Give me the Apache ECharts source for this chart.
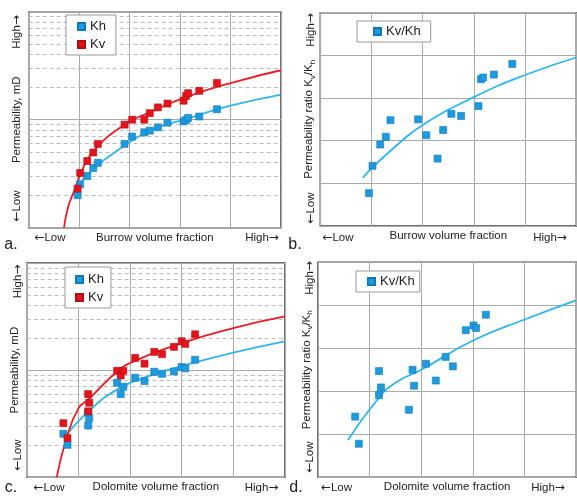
<!DOCTYPE html>
<html>
<head>
<meta charset="utf-8">
<script src="https://cdn.jsdelivr.net/npm/echarts@6/dist/echarts.min.js"></script>
<style>
  html, body { margin: 0; padding: 0; background: #fff; }
  #chart { width: 577px; height: 497px; }
</style>
</head>
<body>
<div id="chart"></div>
<script>
// a. burrow volume fraction vs permeability (log)
const burrowX = [0.97, 1.02, 1.16, 1.28, 1.37, 1.90, 2.05, 2.29, 2.40, 2.56, 2.75, 3.07, 3.12, 3.16, 3.38, 3.73];
const burrowKh = [2.0, 2.52, 3.01, 3.57, 3.99, 5.97, 6.98, 7.64, 7.92, 8.50, 9.39, 9.66, 9.93, 10.4, 10.7, 12.5];
const burrowKv = [2.30, 3.21, 4.14, 4.97, 5.97, 9.0, 10.0, 10.0, 11.5, 13.0, 14.1, 15.0, 16.6, 17.6, 18.5, 21.9];
const burrowKhFitX = [0.92, 1.02, 1.28, 1.71, 2.4, 3.13, 3.98, 4.98];
const burrowKhFitY = [2.35, 2.6, 3.5, 5.0, 7.9, 10.2, 13.4, 17.0];
const burrowKvFitX = [0.70, 0.78, 0.92, 1.02, 1.28, 1.9, 2.4, 3.13, 4.15, 5.0];
const burrowKvFitY = [1.0, 1.55, 2.3, 3.1, 5.1, 9.0, 11.7, 16.3, 22.8, 28.7];

// b. burrow volume fraction vs Kv/Kh
const burrowRatioX = [0.95, 1.02, 1.17, 1.28, 1.37, 1.91, 2.07, 2.29, 2.40, 2.56, 2.75, 3.09, 3.14, 3.18, 3.39, 3.75];
const burrowRatio = [0.77, 1.41, 1.91, 2.09, 2.48, 2.50, 2.13, 1.58, 2.25, 2.63, 2.58, 2.81, 3.44, 3.48, 3.55, 3.80];
const burrowRatioFitX = [0.83, 1.0, 1.5, 2.0, 3.0, 4.0, 5.0];
const burrowRatioFitY = [1.13, 1.35, 1.9, 2.37, 3.02, 3.54, 3.95];

// c. dolomite volume fraction vs permeability (log)
const dolomiteX = [0.71, 0.79, 1.19, 1.21, 1.19, 1.75, 1.82, 1.87, 2.10, 2.28, 2.47, 2.62, 2.85, 3.0, 3.07, 3.26];
const dolomiteKh = [2.55, 2.01, 4.02, 3.56, 3.04, 7.63, 5.98, 7.00, 8.49, 7.91, 9.66, 9.25, 9.72, 10.7, 10.4, 12.5];
const dolomiteKv = [3.20, 2.32, 5.98, 4.97, 4.13, 9.86, 8.92, 9.86, 13.0, 11.5, 14.8, 14.1, 16.5, 18.6, 17.6, 21.6];
const dolomiteKhFitX = [0.72, 1.19, 1.8, 2.45, 3.0, 4.0, 5.0];
const dolomiteKhFitY = [2.3, 4.1, 6.8, 9.1, 10.9, 14.6, 18.6];
const dolomiteKvFitX = [0.58, 0.77, 1.0, 1.19, 1.74, 2.06, 3.0, 4.0, 5.0];
const dolomiteKvFitY = [1.0, 2.3, 4.4, 5.3, 9.6, 12.0, 17.9, 24.7, 31.7];

// d. dolomite volume fraction vs Kv/Kh
const dolomiteRatioX = [0.72, 0.79, 1.18, 1.18, 1.22, 1.76, 1.83, 1.86, 2.09, 2.28, 2.47, 2.61, 2.86, 3.01, 3.06, 3.25];
const dolomiteRatio = [1.41, 0.78, 2.47, 1.91, 2.09, 1.57, 2.50, 2.13, 2.64, 2.25, 2.80, 2.58, 3.42, 3.53, 3.47, 3.78];
const dolomiteRatioFitX = [0.58, 1.16, 1.5, 2.0, 3.0, 4.0, 4.98];
const dolomiteRatioFitY = [0.87, 1.82, 2.2, 2.5, 3.18, 3.67, 4.11];

// dashed minor gridlines on the log axes
const logMinorLines = [2, 3, 4, 5, 6, 7, 8, 9, 20, 30, 40, 50, 60, 70, 80, 90];

const FONT = '"Liberation Sans", Arial, sans-serif';
const ARROW_FONT = '"DejaVu Sans", sans-serif';
const BLUE = '#1c9be0';
const BLUE_LINE = '#2fb5ee';
const RED = '#e5141c';
const RED_LINE = '#ee1c24';

const zip = (xs, ys) => xs.map((x, i) => [x, ys[i]]);

const chart = echarts.init(document.getElementById('chart'));

const grids = [
  { left: 28.7, top: 11.7, width: 252.3, height: 216 },
  { left: 320.3, top: 12.7, width: 256, height: 213.3 },
  { left: 26.7, top: 263, width: 258.3, height: 214.3 },
  { left: 318, top: 262.3, width: 258.3, height: 215 }
].map(g => Object.assign(g, { show: true, borderColor: '#444', borderWidth: 1.5, backgroundColor: 'transparent' }));

const hidden = { axisLine: { show: false }, axisTick: { show: false }, axisLabel: { show: false } };
const nameStyle = { fontSize: 11.5, fontFamily: FONT, color: '#222' };

const xNames = ['Burrow volume fraction', 'Burrow volume fraction', 'Dolomite volume fraction', 'Dolomite volume fraction'];
const xAxes = xNames.map((n, i) => Object.assign({
  type: 'value', gridIndex: i, min: 0, max: 5, interval: 1,
  splitLine: { lineStyle: { color: '#aaa', width: 1 } },
  name: n, nameLocation: 'middle', nameGap: 4, nameTextStyle: nameStyle
}, hidden));

const ratioName = '{t|Permeability ratio K}{s|v}{t|/K}{s|h}';
const ratioStyle = {
  fontFamily: FONT, color: '#222',
  rich: {
    t: { fontSize: 11.5, fontFamily: FONT, color: '#222', lineHeight: 14 },
    s: { fontSize: 8, fontFamily: FONT, color: '#222', lineHeight: 14, verticalAlign: 'bottom' }
  }
};
const yAxes = [0, 1, 2, 3].map(i => {
  const isLog = i === 0 || i === 2;
  return Object.assign({
    gridIndex: i,
    type: isLog ? 'log' : 'value',
    logBase: 10,
    min: isLog ? 1 : 0,
    max: isLog ? 100 : 5,
    interval: isLog ? undefined : 1,
    splitLine: { lineStyle: { color: '#aaa', width: 1 } },
    name: isLog ? 'Permeability, mD' : ratioName,
    nameLocation: 'middle', nameRotate: 90, nameGap: isLog ? 6 : 4,
    nameTextStyle: isLog ? nameStyle : ratioStyle
  }, hidden);
});

function scatter(name, idx, xs, ys, color, border) {
  return {
    name: name, type: 'scatter', xAxisIndex: idx, yAxisIndex: idx, z: 4,
    symbol: 'rect', symbolSize: 7,
    itemStyle: { color: color, borderColor: border, borderWidth: 0.6, opacity: 1 },
    data: zip(xs, ys)
  };
}
function fit(name, idx, xs, ys, color, minor) {
  const s = {
    name: name, type: 'line', xAxisIndex: idx, yAxisIndex: idx, z: 3,
    smooth: true, showSymbol: false, symbol: 'none', silent: true,
    lineStyle: { color: color, width: 1.8 },
    data: zip(xs, ys)
  };
  if (minor) {
    s.markLine = {
      silent: true, symbol: 'none', z: 1, animation: false,
      label: { show: false },
      lineStyle: { color: '#bbb', width: 1, type: [4, 3] },
      emphasis: { disabled: true },
      data: logMinorLines.map(v => ({ yAxis: v }))
    };
  }
  return s;
}

const series = [
  fit('a Kh fit', 0, burrowKhFitX, burrowKhFitY, BLUE_LINE, true),
  fit('a Kv fit', 0, burrowKvFitX, burrowKvFitY, RED_LINE, false),
  scatter('Kh', 0, burrowX, burrowKh, BLUE, '#1276b8'),
  scatter('Kv', 0, burrowX, burrowKv, RED, '#b00d12'),
  fit('b fit', 1, burrowRatioFitX, burrowRatioFitY, BLUE_LINE, false),
  scatter('Kv/Kh', 1, burrowRatioX, burrowRatio, BLUE, '#1276b8'),
  fit('c Kh fit', 2, dolomiteKhFitX, dolomiteKhFitY, BLUE_LINE, true),
  fit('c Kv fit', 2, dolomiteKvFitX, dolomiteKvFitY, RED_LINE, false),
  scatter('Kh', 2, dolomiteX, dolomiteKh, BLUE, '#1276b8'),
  scatter('Kv', 2, dolomiteX, dolomiteKv, RED, '#b00d12'),
  fit('d fit', 3, dolomiteRatioFitX, dolomiteRatioFitY, BLUE_LINE, false),
  scatter('Kv/Kh', 3, dolomiteRatioX, dolomiteRatio, BLUE, '#1276b8')
];

const legendBase = {
  orient: 'vertical', icon: 'rect', itemWidth: 7, itemHeight: 7, itemGap: 5,
  backgroundColor: '#fff', borderColor: '#999', borderWidth: 1, borderRadius: 0,
  textStyle: { fontSize: 13, fontFamily: FONT, color: '#222' },
  selectedMode: false
};
const legends = [
  { left: 66, top: 15, padding: [5, 10, 4, 11], data: ['Kh', 'Kv'] },
  { left: 357, top: 21, padding: [4, 10, 4, 16], data: ['Kv/Kh'] },
  { left: 65, top: 267, padding: [6, 7, 4, 10], data: ['Kh', 'Kv'] },
  { left: 356, top: 271, padding: [4, 5, 4, 11], data: ['Kv/Kh'] }
].map(l => Object.assign({}, legendBase, l));

// side labels (arrows) and panel letters
const LOW = '{a|\u2190}{t|Low}';
const HIGH = '{t|High}{a|\u2192}';
const sideLabels = [
  // x-axis ends
  { x: 50, y: 237.5, t: LOW }, { x: 262, y: 237.5, t: HIGH },
  { x: 338, y: 237.5, t: LOW }, { x: 550, y: 237.5, t: HIGH },
  { x: 49, y: 487.5, t: LOW }, { x: 261.5, y: 487.5, t: HIGH },
  { x: 336.5, y: 487.5, t: LOW }, { x: 548, y: 487.5, t: HIGH },
  // y-axis ends, rotated
  { x: 17.3, y: 32, t: HIGH, r: true }, { x: 17.3, y: 206, t: LOW, r: true },
  { x: 311, y: 30, t: HIGH, r: true }, { x: 311, y: 208, t: LOW, r: true },
  { x: 18.3, y: 281.5, t: HIGH, r: true }, { x: 18.3, y: 455, t: LOW, r: true },
  { x: 309.7, y: 278, t: HIGH, r: true }, { x: 309.7, y: 457, t: LOW, r: true }
];
const panelLetters = [
  { x: 11, y: 245, t: 'a.' }, { x: 295, y: 245, t: 'b.' },
  { x: 11, y: 488, t: 'c.' }, { x: 296, y: 488, t: 'd.' }
];

const sideRich = {
  t: { fontSize: 11.5, fontFamily: FONT, fill: '#222', lineHeight: 14 },
  a: { fontSize: 12, fontFamily: ARROW_FONT, fill: '#222', lineHeight: 14 }
};
const graphic = sideLabels.map(s => ({
  type: 'text', x: s.x, y: s.y, rotation: s.r ? Math.PI / 2 : 0, silent: true,
  style: { text: s.t, rich: sideRich, fontSize: 11.5, fontFamily: FONT, fill: '#222', align: 'center', verticalAlign: 'middle' }
})).concat(panelLetters.map(p => ({
  type: 'text', x: p.x, y: p.y, silent: true,
  style: { text: p.t, fontSize: 16, fontFamily: FONT, fill: '#222', align: 'center', verticalAlign: 'middle' }
})));

chart.setOption({
  animation: false,
  backgroundColor: '#fff',
  grid: grids,
  xAxis: xAxes,
  yAxis: yAxes,
  legend: legends,
  series: series,
  graphic: graphic
});
</script>
</body>
</html>
